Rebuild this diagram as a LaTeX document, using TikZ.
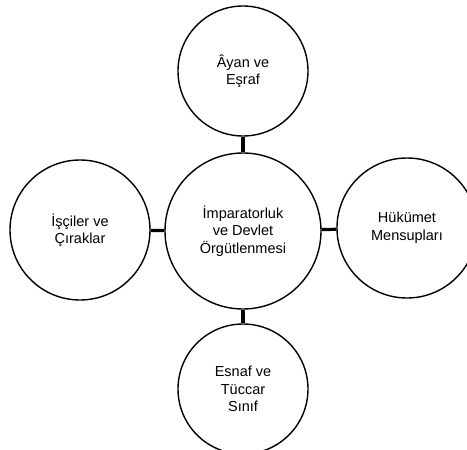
\documentclass[tikz,border=0pt]{standalone}
\usepackage{fontspec}
\setmainfont{Liberation Sans}
\usepackage{tikz}

\begin{document}
\begin{tikzpicture}[x=1pt, y=-1pt,
  every node/.style={font=\fontsize{14.5}{17.5}\selectfont, align=center},
  bubble/.style={draw, circle, line width=1.4pt, inner sep=0pt}]
  \useasboundingbox (0, 0) rectangle (467, 450);
  \clip (0, 0) rectangle (467, 450);
  \node [bubble, minimum size=156pt] (core) at (243, 231) {{\.I}mparatorluk\\ve Devlet\\{\"O}rg{\"u}tlenmesi};
  \node [bubble, minimum size=130pt] (ayan) at (243, 71) {{\^A}yan ve\\E{\c s}raf};
  \node [bubble, minimum size=140pt] (isci) at (80, 230) {{\.I}{\c s}{\c c}iler ve\\{\c C}{\i}raklar};
  \node [bubble, minimum size=140pt] (hukumet) at (407, 228) {H{\"u}k{\"u}met\\Mensupla{r\i}};
  \node [bubble, minimum size=130pt] (esnaf) at (243, 389) {Esnaf ve\\T{\"u}ccar\\S{\i}n{\i}f};
  \draw [line width=3.2pt] (core) -- (ayan);
  \draw [line width=3.2pt] (core) -- (isci);
  \draw [line width=3.2pt] (core) -- (hukumet);
  \draw [line width=3.2pt] (core) -- (esnaf);
\end{tikzpicture}
\end{document}
